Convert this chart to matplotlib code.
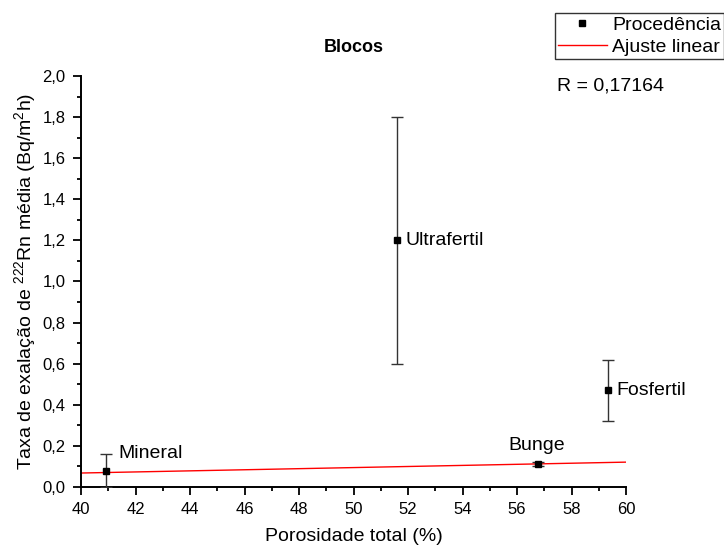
import matplotlib
matplotlib.use("Agg")
import matplotlib.pyplot as plt
from matplotlib.ticker import MultipleLocator, FuncFormatter
from matplotlib.lines import Line2D
import numpy as np

plt.rcParams['font.family'] = ['Liberation Sans', 'DejaVu Sans']
plt.rcParams['mathtext.fontset'] = 'custom'
plt.rcParams['mathtext.rm'] = 'Liberation Sans'
plt.rcParams['mathtext.it'] = 'Liberation Sans:italic'

names = ["Mineral", "Ultrafertil", "Fosfertil", "Bunge"]
porosity = [40.92, 51.6, 59.34, 56.77]
rate = [0.08, 1.20, 0.47, 0.11]
err = [0.08, 0.60, 0.15, 0.01]
fit_intercept = -0.038
fit_slope = 0.00265
r_value = "0,17164"

fig = plt.figure(figsize=(7.24, 5.5), dpi=100)
ax = fig.add_axes([81/724, 63/550, 545/724, 411/550])

ax.errorbar(porosity, rate, yerr=err, fmt='s', color='black', ms=4,
            ecolor='#333333', elinewidth=1, capsize=4.5, capthick=1, zorder=3)
xf = np.array([40, 60])
ax.plot(xf, fit_intercept + fit_slope * xf, color='red', lw=1, zorder=2)

offsets = {"Mineral": (0.44, 0.085), "Ultrafertil": (0.3, 0.0),
           "Fosfertil": (0.3, 0.0), "Bunge": (-1.1, 0.094)}
for n, x, y in zip(names, porosity, rate):
    dx, dy = offsets[n]
    ax.text(x + dx, y + dy, n, fontsize=14, va='center', ha='left')

ax.set_xlim(40, 60)
ax.set_ylim(0, 2.0)
ax.xaxis.set_major_locator(MultipleLocator(2))
ax.xaxis.set_minor_locator(MultipleLocator(1))
ax.yaxis.set_major_locator(MultipleLocator(0.2))
ax.yaxis.set_minor_locator(MultipleLocator(0.1))
ax.yaxis.set_major_formatter(FuncFormatter(lambda v, p: f"{v:.1f}".replace('.', ',')))
ax.tick_params(which='major', direction='out', length=6, width=1.3, labelsize=12, pad=5)
ax.tick_params(which='minor', direction='out', length=3.2, width=1.3)
for s in ['top', 'right']:
    ax.spines[s].set_visible(False)
for s in ['left', 'bottom']:
    ax.spines[s].set_linewidth(1.4)

ax.set_xlabel('Porosidade total (%)', fontsize=14, labelpad=8)
ax.set_ylabel('Taxa de exalação de $^{222}$Rn média (Bq/m$^{2}$h)', fontsize=14, labelpad=3)
ax.set_title('Blocos', fontsize=13, fontweight='bold', pad=17)

handles = [Line2D([], [], marker='s', color='black', ls='none', ms=4),
           Line2D([], [], color='red', lw=1)]
leg = fig.legend(handles, ['Procedência', 'Ajuste linear'], loc='upper left',
                 bbox_to_anchor=(555/724, 1 - 13/550), fontsize=14,
                 frameon=True, fancybox=False, edgecolor='black', borderpad=0.15,
                 labelspacing=0.25, handlelength=2.5, handletextpad=0.3, borderaxespad=0)
leg.get_frame().set_linewidth(1)
fig.text(557/724, 1 - 86/550, f"R = {r_value}", fontsize=14, va='center', ha='left')

fig.savefig('out.png', dpi=100)
